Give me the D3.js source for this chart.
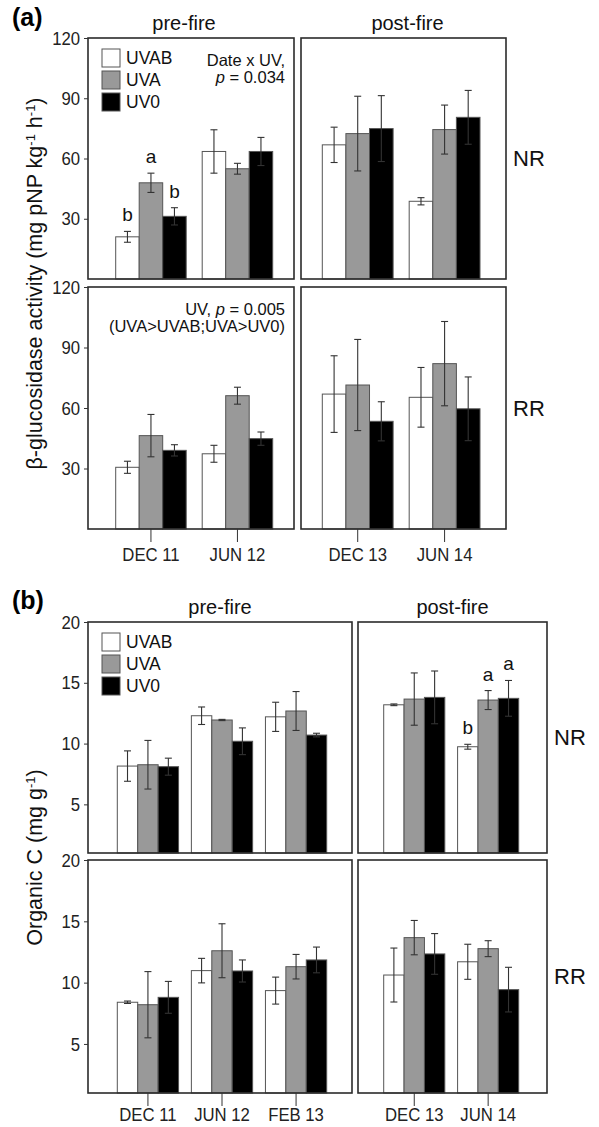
<!DOCTYPE html>
<html>
<head>
<meta charset="utf-8">
<script src="https://cdn.jsdelivr.net/npm/d3@7"></script>
<style>
  body { margin: 0; background: #fff; }
</style>
</head>
<body>
<script>
// UV treatments
const uvLevels = ["UVAB", "UVA", "UV0"];
const uvFills = ["#ffffff", "#999999", "#000000"];

// sampling dates
const datesPreA = ["DEC 11", "JUN 12"];
const datesPostA = ["DEC 13", "JUN 14"];
const datesPreB = ["DEC 11", "JUN 12", "FEB 13"];
const datesPostB = ["DEC 13", "JUN 14"];

const betaTicks = [30, 60, 90, 120];
const carbTicks = [5, 10, 15, 20];

// (a) beta-glucosidase, mean and SE, [date][UVAB, UVA, UV0]
const betaNrPre = [[21.0, 47.9, 31.2], [63.5, 54.9, 63.5]];
const betaNrPreErr = [[2.7, 4.8, 4.3], [10.8, 2.7, 7.0]];
const betaNrPost = [[66.8, 72.4, 74.9], [38.7, 74.4, 80.5]];
const betaNrPostErr = [[8.8, 18.6, 16.4], [1.8, 12.2, 13.4]];
const betaRrPre = [[30.6, 46.3, 39.0], [37.3, 66.1, 44.8]];
const betaRrPreErr = [[3.0, 10.5, 2.8], [4.2, 4.2, 3.3]];
const betaRrPost = [[66.9, 71.4, 53.4], [65.3, 82.0, 59.6]];
const betaRrPostErr = [[19.0, 22.6, 9.7], [14.8, 20.9, 15.8]];

// (b) organic C
const carbNrPre = [[8.15, 8.26, 8.1], [12.29, 11.94, 10.19], [12.2, 12.68, 10.7]];
const carbNrPreErr = [[1.25, 2.0, 0.7], [0.72, 0.05, 1.1], [1.2, 1.6, 0.15]];
const carbNrPost = [[13.19, 13.66, 13.8], [9.74, 13.58, 13.72]];
const carbNrPostErr = [[0.07, 2.15, 2.17], [0.2, 0.78, 1.47]];
const carbRrPre = [[8.4, 8.2, 8.8], [10.98, 12.6, 10.95], [9.35, 11.3, 11.85]];
const carbRrPreErr = [[0.1, 2.7, 1.3], [1.0, 2.2, 0.9], [1.1, 1.0, 1.05]];
const carbRrPost = [[10.62, 13.67, 12.34], [11.7, 12.77, 9.43]];
const carbRrPostErr = [[2.2, 1.4, 1.66], [1.43, 0.65, 1.82]];

// significance letters
const betaNrPreLetters = [["DEC 11", "UVAB", "b"], ["DEC 11", "UVA", "a"], ["DEC 11", "UV0", "b"]];
const carbNrPostLetters = [["JUN 14", "UVAB", "b"], ["JUN 14", "UVA", "a"], ["JUN 14", "UV0", "a"]];

const width = 599, height = 1127;
const svg = d3.select("body").append("svg")
    .attr("width", width)
    .attr("height", height)
    .style("font-family", "'Liberation Sans', Arial, sans-serif");

// axis numbers are set in a slightly condensed face in the original
const tickFont = "'Liberation Sans', Arial";
const squeeze = 0.88;

function panel(o) {
    const g = svg.append("g");
    const y = d3.scaleLinear().domain(o.domain).range([o.y1, o.y0]);
    const x = d3.scaleBand().domain(o.dates)
        .range([o.x0 + o.padL, o.x1 - o.padR])
        .paddingInner(o.gap);
    const xs = d3.scaleBand().domain(uvLevels).range([0, x.bandwidth()]);

    const rows = o.dates.flatMap((d, i) => uvLevels.map((u, j) => ({
        date: d, uv: u, j: j, m: o.means[i][j], e: o.errs[i][j]
    })));
    const cx = d => x(d.date) + xs(d.uv) + xs.bandwidth() / 2;

    g.selectAll("rect.bar")
        .data(rows)
        .join("rect")
        .attr("class", "bar")
        .attr("x", d => x(d.date) + xs(d.uv))
        .attr("y", d => y(d.m))
        .attr("width", xs.bandwidth())
        .attr("height", d => y(o.domain[0]) - y(d.m))
        .attr("fill", d => uvFills[d.j])
        .attr("stroke", "#555")
        .attr("stroke-width", 1);

    // error bars
    const eb = g.selectAll("g.err")
        .data(rows)
        .join("g")
        .attr("class", "err")
        .attr("transform", d => `translate(${cx(d)},0)`)
        .attr("stroke", "#333")
        .attr("stroke-width", 1.1);
    eb.append("line")
        .attr("y1", d => y(d.m + d.e))
        .attr("y2", d => y(d.m - d.e));
    eb.append("line")
        .attr("x1", -3.5).attr("x2", 3.5)
        .attr("y1", d => y(d.m + d.e)).attr("y2", d => y(d.m + d.e));
    eb.append("line")
        .attr("x1", -3.5).attr("x2", 3.5)
        .attr("y1", d => y(d.m - d.e)).attr("y2", d => y(d.m - d.e));

    // frame
    g.append("rect")
        .attr("x", o.x0).attr("y", o.y0)
        .attr("width", o.x1 - o.x0).attr("height", o.y1 - o.y0)
        .attr("fill", "none")
        .attr("stroke", "#2b2b2b")
        .attr("stroke-width", 1.6);

    if (o.yAxis) {
        const ax = g.append("g")
            .attr("transform", `translate(${o.x0},0)`)
            .call(d3.axisLeft(y).tickValues(o.ticks).tickSize(4).tickPadding(4));
        ax.select(".domain").remove();
        ax.selectAll("line").attr("stroke", "#333");
        ax.selectAll("text")
            .attr("fill", "#222")
            .style("font-family", tickFont)
            .style("font-size", "19px")
            .attr("x", -8 / squeeze)
            .attr("transform", `scale(${squeeze},1)`);
    }

    if (o.xAxis) {
        const ax = g.append("g")
            .attr("transform", `translate(0,${o.y1})`)
            .call(d3.axisBottom(x).tickSize(13).tickPadding(o.xPad));
        ax.select(".domain").remove();
        ax.selectAll("line").attr("stroke", "#333");
        ax.selectAll("text")
            .attr("fill", "#222")
            .style("font-family", tickFont)
            .style("font-size", "19px")
            .attr("transform", `scale(${squeeze},1)`);
        ax.selectAll(".tick").each(function () {
            const t = d3.select(this);
            const tx = +t.attr("transform").match(/translate\(([-\d.]+)/)[1];
            t.select("text").attr("x", tx / squeeze);
            t.select("line").attr("x1", tx).attr("x2", tx);
            t.attr("transform", null);
        });
    }

    if (o.title) {
        g.append("text")
            .attr("x", (o.x0 + o.x1) / 2 + (o.titleDx || 0))
            .attr("y", o.y0 - 8)
            .attr("text-anchor", "middle")
            .style("font-size", "20px")
            .attr("fill", "#111")
            .text(o.title);
    }

    if (o.side) {
        g.append("text")
            .attr("x", o.x1 + 7)
            .attr("y", (o.y0 + o.y1) / 2)
            .attr("dy", "0.36em")
            .style("font-size", "22px")
            .attr("fill", "#111")
            .text(o.side);
    }

    if (o.legend) {
        const lg = g.append("g")
            .attr("transform", `translate(${o.x0 + 14},${o.y0 + 11})`);
        const item = lg.selectAll("g")
            .data(uvLevels)
            .join("g")
            .attr("transform", (d, i) => `translate(0,${i * 22})`);
        item.append("rect")
            .attr("width", 18).attr("height", 18)
            .attr("fill", (d, i) => uvFills[i])
            .attr("stroke", "#555");
        item.append("text")
            .attr("x", 24).attr("y", 9)
            .attr("dy", "0.36em")
            .style("font-size", "17.5px")
            .attr("fill", "#111")
            .text(d => d);
    }

    if (o.stats) {
        const st = g.append("text")
            .attr("text-anchor", "end")
            .style("font-size", "16.5px")
            .attr("fill", "#111");
        o.stats.forEach((line, i) => {
            const ts = st.append("tspan")
                .attr("x", o.x1 - 9)
                .attr("y", o.y0 + 28 + i * 17);
            line.forEach(part => {
                ts.append("tspan")
                    .style("font-style", part.it ? "italic" : null)
                    .text(part.t);
            });
        });
    }

    if (o.letters) {
        g.selectAll("text.letter")
            .data(o.letters)
            .join("text")
            .attr("class", "letter")
            .attr("text-anchor", "middle")
            .attr("x", d => x(d[0]) + xs(d[1]) + xs.bandwidth() / 2)
            .attr("y", d => {
                const r = rows.find(r => r.date === d[0] && r.uv === d[1]);
                return y(r.m + r.e) - 10;
            })
            .style("font-size", "19px")
            .attr("fill", "#111")
            .text(d => d[2]);
    }
}

// ---------- (a) ----------
panel({ x0: 88, x1: 294, y0: 38, y1: 279, domain: [0, 120], ticks: betaTicks,
    dates: datesPreA, means: betaNrPre, errs: betaNrPreErr, padL: 27.7, padR: 21.3, gap: 0.185,
    yAxis: true, title: "pre-fire", titleDx: -7, legend: true, letters: betaNrPreLetters,
    stats: [[{ t: "Date x UV," }], [{ t: "p", it: true }, { t: " = 0.034" }]] });
panel({ x0: 301, x1: 506, y0: 38, y1: 279, domain: [0, 120], ticks: betaTicks,
    dates: datesPostA, means: betaNrPost, errs: betaNrPostErr, padL: 21.3, padR: 26, gap: 0.185,
    title: "post-fire", titleDx: 4, side: "NR" });
panel({ x0: 88, x1: 294, y0: 287, y1: 529, domain: [0, 120], ticks: betaTicks,
    dates: datesPreA, means: betaRrPre, errs: betaRrPreErr, padL: 27.7, padR: 21.3, gap: 0.185,
    yAxis: true, xAxis: true, xPad: 6,
    stats: [[{ t: "UV, " }, { t: "p", it: true }, { t: " = 0.005" }], [{ t: "(UVA>UVAB;UVA>UV0)" }]] });
panel({ x0: 301, x1: 506, y0: 287, y1: 529, domain: [0, 120], ticks: betaTicks,
    dates: datesPostA, means: betaRrPost, errs: betaRrPostErr, padL: 21.3, padR: 26, gap: 0.185,
    xAxis: true, xPad: 6, side: "RR" });

// ---------- (b) ----------
panel({ x0: 88, x1: 352, y0: 622, y1: 853, domain: [1, 20], ticks: carbTicks,
    dates: datesPreB, means: carbNrPre, errs: carbNrPreErr, padL: 29.3, padR: 25.3, gap: 0.173,
    yAxis: true, title: "pre-fire", legend: true });
panel({ x0: 358, x1: 547, y0: 622, y1: 853, domain: [1, 20], ticks: carbTicks,
    dates: datesPostB, means: carbNrPost, errs: carbNrPostErr, padL: 25.7, padR: 28.3, gap: 0.173,
    title: "post-fire", side: "NR", letters: carbNrPostLetters });
panel({ x0: 88, x1: 352, y0: 860, y1: 1093, domain: [1, 20], ticks: carbTicks,
    dates: datesPreB, means: carbRrPre, errs: carbRrPreErr, padL: 29.3, padR: 25.3, gap: 0.173,
    yAxis: true, xAxis: true, xPad: 2 });
panel({ x0: 358, x1: 547, y0: 860, y1: 1093, domain: [1, 20], ticks: carbTicks,
    dates: datesPostB, means: carbRrPost, errs: carbRrPostErr, padL: 25.7, padR: 28.3, gap: 0.173,
    xAxis: true, xPad: 2, side: "RR" });

// panel tags
svg.append("text").attr("x", 12).attr("y", 26)
    .style("font-size", "25px").style("font-weight", "bold").attr("fill", "#000").text("(a)");
svg.append("text").attr("x", 12).attr("y", 609)
    .style("font-size", "25px").style("font-weight", "bold").attr("fill", "#000").text("(b)");

// y axis titles
function yTitle(cy, parts) {
    const t = svg.append("text")
        .attr("transform", `translate(42,${cy}) rotate(-90)`)
        .attr("text-anchor", "middle")
        .style("font-size", "21.5px")
        .attr("fill", "#111");
    parts.forEach(p => {
        const s = t.append("tspan").text(p.t);
        if (p.sup) s.attr("baseline-shift", "super").style("font-size", "13px");
    });
}
yTitle((38 + 529) / 2, [{ t: "β-glucosidase activity (mg pNP kg" }, { t: "-1", sup: true },
    { t: " h" }, { t: "-1", sup: true }, { t: ")" }]);
yTitle((622 + 1093) / 2, [{ t: "Organic C (mg g" }, { t: "-1", sup: true }, { t: ")" }]);
</script>
</body>
</html>
